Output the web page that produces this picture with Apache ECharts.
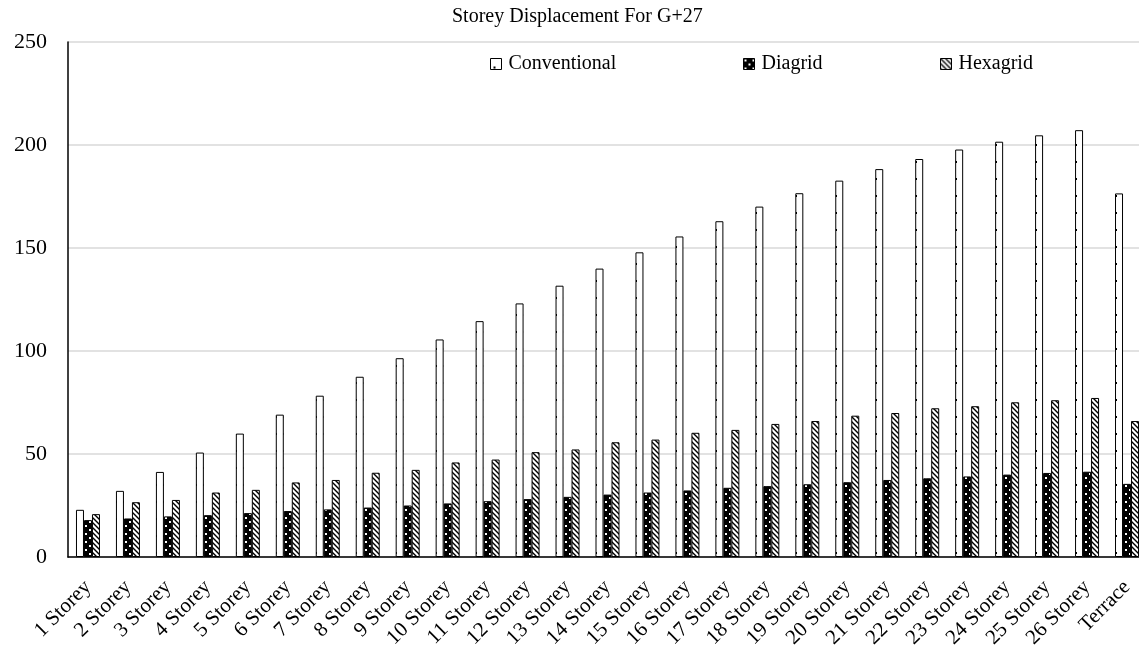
<!DOCTYPE html>
<html>
<head>
<meta charset="utf-8">
<script src="https://cdn.jsdelivr.net/npm/echarts@6/dist/echarts.min.js"></script>
<style>
html,body{margin:0;padding:0;background:#fff;}
#main{width:1139px;height:645px;}
</style>
</head>
<body>
<div id="main"></div>
<script>
var categories = ['1 Storey','2 Storey','3 Storey','4 Storey','5 Storey','6 Storey','7 Storey','8 Storey','9 Storey','10 Storey','11 Storey','12 Storey','13 Storey','14 Storey','15 Storey','16 Storey','17 Storey','18 Storey','19 Storey','20 Storey','21 Storey','22 Storey','23 Storey','24 Storey','25 Storey','26 Storey','Terrace'];
var conventional = [22.9,32.1,41.3,50.7,59.9,69.1,78.3,87.5,96.5,105.6,114.5,123.1,131.7,140.0,147.9,155.6,163.0,170.1,176.6,182.7,188.3,193.2,197.8,201.6,204.7,207.2,176.5];
var diagrid = [17.9,18.7,19.7,20.3,21.3,22.3,23.1,24.0,25.0,26.0,27.1,28.1,29.2,30.3,31.3,32.3,33.6,34.4,35.3,36.3,37.4,38.2,39.1,40.0,40.8,41.4,35.5];
var hexagrid = [20.8,26.6,27.7,31.3,32.6,36.2,37.4,40.9,42.3,45.9,47.3,50.9,52.2,55.7,57.0,60.3,61.7,64.6,66.0,68.6,69.9,72.2,73.2,75.1,76.1,77.2,66.0];
var yTicks = [0,50,100,150,200,250];
var seriesNames = ['Conventional','Diagrid','Hexagrid'];

function makeTile(w, h, draw) {
  var c = document.createElement('canvas');
  c.width = w; c.height = h;
  var ctx = c.getContext('2d');
  draw(ctx, w, h);
  return c;
}
var dotTile = makeTile(8, 17, function(ctx, w, h){
  ctx.fillStyle = '#fff'; ctx.fillRect(0,0,w,h);
  ctx.fillStyle = '#000'; ctx.fillRect(3,8,2,2);
});
var darkTile = makeTile(8, 8, function(ctx, w, h){
  ctx.fillStyle = '#000'; ctx.fillRect(0,0,w,h);
  ctx.fillStyle = '#fff'; ctx.fillRect(1,1,2,2); ctx.fillRect(5,5,2,2);
});
var hatchTile = makeTile(5, 5, function(ctx, w, h){
  ctx.fillStyle = '#fff'; ctx.fillRect(0,0,w,h);
  ctx.strokeStyle = '#000'; ctx.lineWidth = 1.4;
  ctx.beginPath();
  ctx.moveTo(-1,-1); ctx.lineTo(w+1,h+1);
  ctx.moveTo(w-1,-1); ctx.lineTo(w+1,1);
  ctx.moveTo(-1,h-1); ctx.lineTo(1,h+1);
  ctx.stroke();
});

var FONT = "'Times New Roman','Liberation Serif',serif";
var chart = echarts.init(document.getElementById('main'), null, {renderer:'canvas'});
function legendAt(name, left) {
  return {
    data: [name], left: left, top: 54, padding: 0, itemWidth: 11, itemHeight: 11,
    icon: 'rect', selectedMode: false,
    itemStyle: {borderColor: '#000', borderWidth: 1},
    textStyle: {fontFamily: FONT, fontSize: 20, color: '#000', padding: [0,0,0,2]}
  };
}
var patterns = [dotTile, darkTile, hatchTile];
var datasets = [conventional, diagrid, hexagrid];
chart.setOption({
  animation: false,
  backgroundColor: '#fff',
  title: {
    text: 'Storey Displacement For G+27', left: 452, top: 7, padding: 0,
    textStyle: {fontFamily: FONT, fontSize: 20, fontWeight: 'normal', color: '#000'}
  },
  legend: [legendAt('Conventional', 490), legendAt('Diagrid', 743), legendAt('Hexagrid', 940)],
  grid: {left: 68, right: -8, top: 42, bottom: 88, containLabel: false, outerBoundsMode: 'none'},
  xAxis: {
    type: 'category', data: categories,
    axisLine: {show: true, lineStyle: {color: '#000', width: 1.5}},
    axisTick: {show: false},
    axisLabel: {interval: 0, rotate: 45, fontFamily: FONT, fontSize: 21, color: '#000', margin: 27}
  },
  yAxis: {
    type: 'value', min: yTicks[0], max: yTicks[yTicks.length-1], interval: 50,
    axisLine: {show: true, lineStyle: {color: '#000', width: 1.5}},
    axisTick: {show: false},
    splitLine: {lineStyle: {color: '#d9d9d9', width: 1.5}},
    axisLabel: {fontFamily: FONT, fontSize: 22, color: '#000', margin: 21}
  },
  series: seriesNames.map(function(n, i){
    return {
      name: n, type: 'bar', data: datasets[i], barWidth: 8, barGap: '0%',
      itemStyle: {color: {image: patterns[i], repeat: 'repeat'}, borderColor: '#000', borderWidth: 1}
    };
  })
});
</script>
</body>
</html>
